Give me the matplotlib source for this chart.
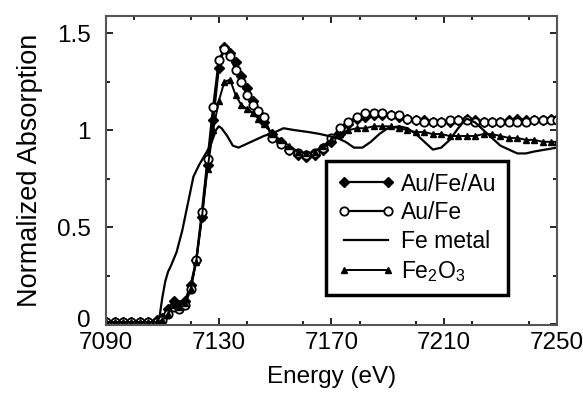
import matplotlib
matplotlib.use('Agg')
import matplotlib.pyplot as plt
import matplotlib.transforms as mtransforms
from matplotlib.ticker import MultipleLocator

plt.rcParams['font.family'] = ['Liberation Sans', 'DejaVu Sans']
plt.rcParams['mathtext.default'] = 'regular'

# energy grid of the measured samples (eV)
energy = [7090, 7093, 7096, 7099, 7102, 7105, 7108, 7110, 7112, 7114, 7116, 7118, 7120,
          7122, 7124, 7126, 7128, 7130, 7132, 7134, 7136, 7138, 7140, 7142, 7144, 7146,
          7149, 7152, 7155, 7158, 7161, 7164, 7167, 7170, 7173, 7176, 7179, 7182, 7185,
          7188, 7191, 7194, 7197, 7200, 7203, 7206, 7209, 7212, 7215, 7218, 7221, 7224,
          7227, 7230, 7233, 7236, 7239, 7242, 7245, 7248, 7250]

au_fe_au = [0.01, 0.01, 0.01, 0.01, 0.01, 0.01, 0.02, 0.03, 0.08, 0.12, 0.10, 0.12, 0.20,
            0.33, 0.55, 0.82, 1.05, 1.32, 1.43, 1.40, 1.35, 1.28, 1.22, 1.15, 1.09, 1.04,
            0.98, 0.94, 0.90, 0.87, 0.86, 0.87, 0.90, 0.94, 0.98, 1.03, 1.06, 1.07, 1.08,
            1.08, 1.08, 1.07, 1.06, 1.05, 1.05, 1.04, 1.04, 1.04, 1.05, 1.06, 1.05, 1.04,
            1.04, 1.04, 1.05, 1.06, 1.05, 1.05, 1.05, 1.06, 1.06]

au_fe = [0.01, 0.01, 0.01, 0.01, 0.01, 0.01, 0.01, 0.02, 0.05, 0.09, 0.08, 0.10, 0.18,
         0.33, 0.58, 0.85, 1.12, 1.36, 1.42, 1.38, 1.31, 1.25, 1.18, 1.13, 1.10, 1.07,
         0.96, 0.93, 0.90, 0.88, 0.87, 0.88, 0.91, 0.96, 1.01, 1.04, 1.07, 1.09, 1.09,
         1.09, 1.08, 1.08, 1.06, 1.05, 1.04, 1.04, 1.04, 1.05, 1.05, 1.05, 1.04, 1.04,
         1.04, 1.04, 1.04, 1.04, 1.04, 1.05, 1.05, 1.05, 1.05]

fe2o3 = [0.01, 0.01, 0.01, 0.01, 0.01, 0.01, 0.01, 0.02, 0.05, 0.10, 0.09, 0.11, 0.18,
         0.32, 0.55, 0.80, 1.00, 1.15, 1.25, 1.26, 1.18, 1.13, 1.11, 1.09, 1.06, 1.03,
         0.98, 0.95, 0.92, 0.89, 0.88, 0.89, 0.92, 0.95, 0.98, 1.00, 1.01, 1.01, 1.02,
         1.02, 1.02, 1.01, 1.00, 0.99, 0.99, 0.98, 0.98, 0.97, 0.97, 0.97, 0.97, 0.98,
         0.98, 0.97, 0.96, 0.96, 0.95, 0.95, 0.94, 0.94, 0.94]

# Fe foil reference, own grid
energy_fe = [7090, 7100, 7106, 7108, 7109, 7110, 7111, 7112, 7113, 7115, 7117, 7119, 7121,
             7123, 7125, 7127, 7129, 7130, 7131, 7133, 7135, 7137, 7140, 7143, 7146, 7150,
             7153, 7157, 7162, 7166, 7169, 7172, 7175, 7178, 7181, 7184, 7187, 7190, 7194,
             7197, 7200, 7203, 7206, 7209, 7212, 7215, 7218, 7221, 7224, 7227, 7230, 7233,
             7236, 7239, 7242, 7246, 7250]
fe_metal = [0.01, 0.01, 0.01, 0.01, 0.04, 0.14, 0.22, 0.27, 0.30, 0.37, 0.48, 0.62, 0.76,
            0.82, 0.87, 0.92, 1.00, 1.02, 1.01, 0.97, 0.92, 0.91, 0.93, 0.95, 0.97, 0.99,
            1.01, 1.00, 0.99, 0.98, 0.97, 0.96, 0.94, 0.91, 0.91, 0.94, 0.98, 1.01, 1.02,
            1.01, 0.98, 0.94, 0.90, 0.91, 0.95, 1.01, 1.06, 1.04, 1.00, 0.96, 0.92, 0.90,
            0.88, 0.88, 0.89, 0.90, 0.91]

fig = plt.figure(figsize=(5.83, 3.94), dpi=100)
ax = fig.add_axes([0.182, 0.175, 0.773, 0.784])

ax.plot(energy, au_fe_au, color='k', lw=1.6, marker='D', ms=5, mfc='k', mec='k',
        label='Au/Fe/Au')
ax.plot(energy, au_fe, color='k', lw=1.6, marker='o', ms=6, mfc='white', mec='k', mew=1.3,
        label='Au/Fe')
ax.plot(energy_fe, fe_metal, color='k', lw=1.6, label='Fe metal')
ax.plot(energy, fe2o3, color='k', lw=1.4, marker='^', ms=4, mfc='k', mec='k',
        label='Fe$_2$O$_3$')

ax.set_xlim(7090, 7250)
ax.set_ylim(-0.005, 1.588)
ax.set_xticks([7090, 7130, 7170, 7210, 7250])
ax.xaxis.set_minor_locator(MultipleLocator(20))
ax.set_yticks([0, 0.5, 1, 1.5])
ax.set_yticklabels(['0', '0.5', '1', '1.5'])
ax.yaxis.set_minor_locator(MultipleLocator(0.25))
ax.tick_params(which='both', direction='in', top=True, right=True, labelsize=17.5, width=1.2)
ax.tick_params(which='major', length=5)
ax.tick_params(which='minor', length=3)
ax.tick_params(axis='y', pad=11)
ax.tick_params(axis='x', pad=5)
for s in ax.spines.values():
    s.set_linewidth(1.5)
    s.set_color('#555555')

# the "0" sits a little above its tick in the original
zero_lbl = ax.get_yticklabels()[0]
zero_lbl.set_transform(zero_lbl.get_transform() +
                       mtransforms.ScaledTranslation(0, 4 / 72, fig.dpi_scale_trans))

ax.set_xlabel('Energy (eV)', fontsize=17.5, labelpad=9)
ax.set_ylabel('Normalized Absorption', fontsize=19.5, labelpad=10)

leg = ax.legend(loc='lower left', bbox_to_anchor=(0.462, 0.06), fontsize=16.5,
                numpoints=2, handlelength=2.5, fancybox=False, framealpha=1,
                edgecolor='k', borderpad=0.5, labelspacing=0.25, handletextpad=0.3)
leg.get_frame().set_linewidth(2.5)

fig.savefig('out.png', dpi=100)
